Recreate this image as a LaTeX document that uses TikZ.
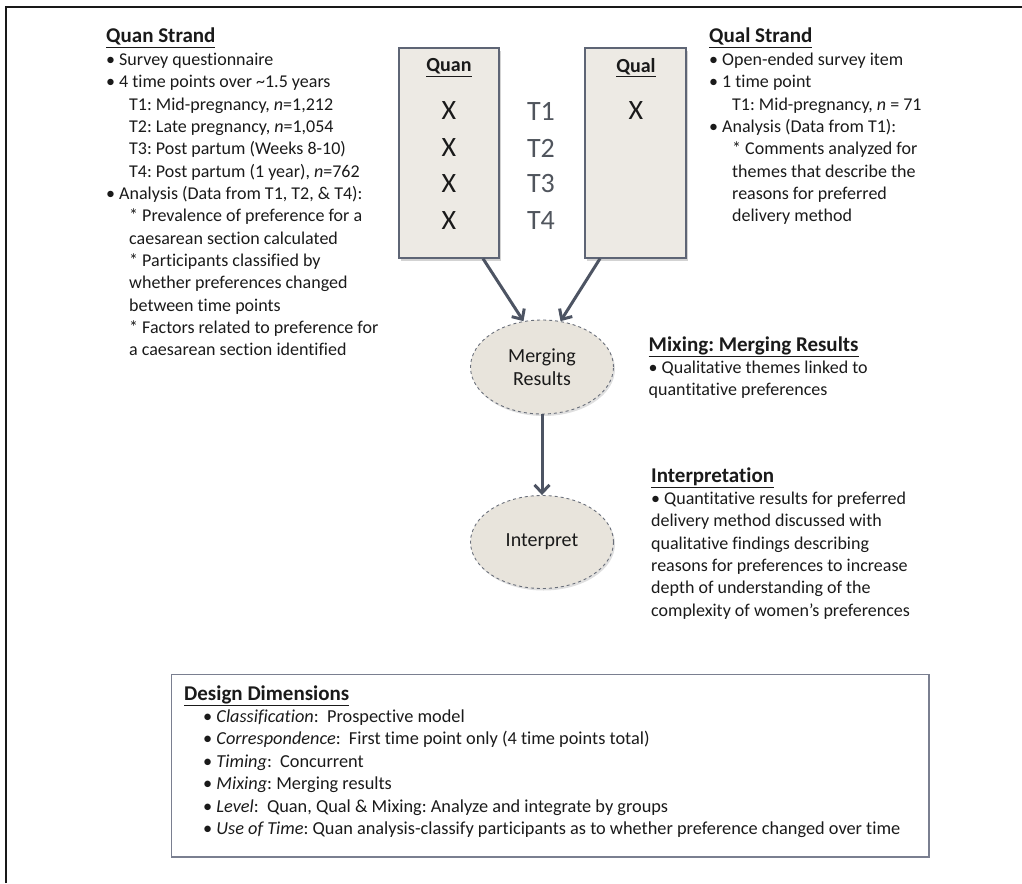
\documentclass[tikz,border=0pt]{standalone}
\usepackage{fontspec}
\setmainfont{Carlito}[Ligatures=CommonOff]
\usetikzlibrary{arrows.meta,shadows,shapes.geometric}
\definecolor{boxfill}{HTML}{EDEAE4}
\definecolor{boxline}{HTML}{5E6575}
\definecolor{ellfill}{HTML}{E8E4DC}
\definecolor{ellline}{HTML}{6A6F7A}
\definecolor{arrowc}{HTML}{4D5463}
\definecolor{tgray}{HTML}{50555D}
\definecolor{txt}{HTML}{1A1A1A}
\definecolor{ddline}{HTML}{7A7F90}
\frenchspacing
\newcommand\bodyfs{\fontsize{18}{22.35}\selectfont}
\newcommand\ddfs{\fontsize{18.3}{22.4}\selectfont}
\newcommand\headfs{\fontsize{21}{22.35}\selectfont\bfseries}
\newcommand\hd[1]{{\headfs\underline{#1}}}
\newcommand\subind{\hspace*{23pt}}
\newcommand\qlsub{\hspace*{23pt}}
\begin{document}
\begin{tikzpicture}[x=1pt,y=-1pt,
  strandbox/.style={draw=boxline, line width=1.2pt, fill=boxfill,
    minimum width=100pt, minimum height=210pt, inner sep=0pt,
    drop shadow={shadow xshift=2pt, shadow yshift=-3pt, opacity=0.35}},
  stepell/.style={ellipse, draw=ellline, dashed, line width=0.9pt, fill=ellfill,
    minimum width=143pt, minimum height=94pt, inner sep=0pt, align=center,
    font=\fontsize{20}{23.5}\selectfont, text=txt,
    drop shadow={shadow xshift=1.5pt, shadow yshift=-2pt, opacity=0.25}},
  boxlabel/.style={font=\fontsize{20}{24}\selectfont\bfseries, text=txt, inner sep=0pt},
  xmark/.style={font=\fontsize{28}{30}\selectfont, text=txt, inner sep=0pt},
  tlabel/.style={font=\fontsize{28}{30}\selectfont, text=tgray, inner sep=0pt},
  textblock/.style={anchor=base west, inner sep=0pt, text=txt},
  flow/.style={draw=arrowc, line width=3pt, -{Straight Barb[length=8pt,width=15pt]}},
]
\useasboundingbox (0,0) rectangle (1022,883);
% outer frame (top and left)
\draw[line width=2pt, black!90] (6,883) -- (6,7) -- (1022,7);

% strand boxes
\node[strandbox] (quan) at (449,153) {};
\node[strandbox, minimum width=101pt] (qual) at (635.5,153) {};

\node[boxlabel] (quanlab) at (449,67.6) {\underline{Quan}};
\node[boxlabel] (quallab) at (636,67.6) {\underline{Qual}};

\node[xmark] (qx1) at (449,111) {X};
\node[xmark] (qx2) at (449,148) {X};
\node[xmark] (qx3) at (449,184) {X};
\node[xmark] (qx4) at (449,221) {X};
\node[xmark] (lx1) at (636,111) {X};

\node[tlabel] (t1) at (541,111) {T1};
\node[tlabel] (t2) at (541,148) {T2};
\node[tlabel] (t3) at (541,184) {T3};
\node[tlabel] (t4) at (541,221) {T4};

% ellipses
\node[stepell] (merge) at (542,367) {Merging\\Results};
\node[stepell, minimum height=93pt] (interp) at (542,542) {Interpret};

% connectors
\draw[flow] ([xshift=34pt]quan.south) -- (merge.112);
\draw[flow] ([xshift=-35.5pt]qual.south) -- (merge.68);
\draw[flow] (merge.south) -- (interp.north);

% Quan strand text
\node[textblock] (quantext) at (106,43) {\bodyfs\begin{tabular}[t]{@{}l@{}}
\hd{Quan Strand}\\
\textbullet\ Survey questionnaire\\
\textbullet\ 4 time points over \textasciitilde1.5 years\\
\subind T1: Mid-pregnancy, \textit{n}=1,212\\
\subind T2: Late pregnancy, \textit{n}=1,054\\
\subind T3: Post partum (Weeks 8-10)\\
\subind T4: Post partum (1 year), \textit{n}=762\\
\textbullet\ Analysis (Data from T1, T2, \& T4):\\
\subind * Prevalence of preference for a\\
\subind caesarean section calculated\\
\subind * Participants classified by\\
\subind whether preferences changed\\
\subind between time points\\
\subind * Factors related to preference for\\
\subind a caesarean section identified
\end{tabular}};

% Qual strand text
\node[textblock] (qualtext) at (709,43) {\bodyfs\begin{tabular}[t]{@{}l@{}}
\hd{Qual Strand}\\
\textbullet\ Open-ended survey item\\
\textbullet\ 1 time point\\
\qlsub T1: Mid-pregnancy, \textit{n} = 71\\
\textbullet\ Analysis (Data from T1):\\
\qlsub * Comments analyzed for\\
\qlsub themes that describe the\\
\qlsub reasons for preferred\\
\qlsub delivery method
\end{tabular}};

% Mixing text
\node[textblock] (mixtext) at (648.5,351) {\bodyfs\begin{tabular}[t]{@{}l@{}}
\hd{Mixing: Merging Results}\\
\textbullet\ Qualitative themes linked to\\
quantitative preferences
\end{tabular}};

% Interpretation text
\node[textblock] (inttext) at (651,482) {\bodyfs\begin{tabular}[t]{@{}l@{}}
\hd{Interpretation}\\
\textbullet\ Quantitative results for preferred\\
delivery method discussed with\\
qualitative findings describing\\
reasons for preferences to increase\\
depth of understanding of the\\
complexity of women’s preferences
\end{tabular}};

% Design dimensions
\node[draw=ddline, line width=1.2pt, minimum width=757.5pt, minimum height=182.5pt, inner sep=0pt] (ddbox) at (550.25,765.75) {};
\node[textblock] (ddtext) at (184,700) {\ddfs\begin{tabular}[t]{@{}l@{}}
\hd{Design Dimensions}\\
\hspace*{19pt}\textbullet\ \textit{Classification}:\ \ Prospective model\\
\hspace*{19pt}\textbullet\ \textit{Correspondence}:\ \ First time point only (4 time points total)\\
\hspace*{19pt}\textbullet\ \textit{Timing}:\ \ Concurrent\\
\hspace*{19pt}\textbullet\ \textit{Mixing}: Merging results\\
\hspace*{19pt}\textbullet\ \textit{Level}:\ \ Quan, Qual \& Mixing: Analyze and integrate by groups\\
\hspace*{19pt}\textbullet\ \textit{Use of Time}: Quan analysis-classify participants as to whether preference changed over time
\end{tabular}};
\end{tikzpicture}
\end{document}
